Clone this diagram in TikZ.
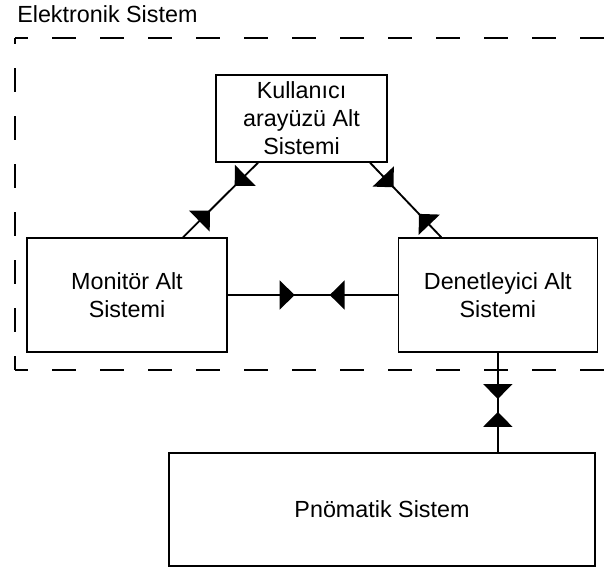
\documentclass[tikz,border=0pt]{standalone}
\usepackage{fontspec}
\setmainfont{Liberation Sans}
\usepackage{tikz}
\usetikzlibrary{arrows.meta,positioning,decorations.markings}
\tikzset{subsys/.style={rectangle, draw=black, line width=1pt, fill=white, align=center, inner sep=0pt, font=\fontsize{17.5}{21}\selectfont}, frame/.style={dash pattern=on 18pt off 18pt, line width=1.4pt}, link/.style 2 args={line width=1.4pt, postaction={decorate}, decoration={markings, mark=at position #1 with {\arrow{Triangle[length=11.25pt,width=21.75pt]}}, mark=at position #2 with {\arrowreversed{Triangle[length=11.25pt,width=21.75pt]}}}}}

\begin{document}
\begin{tikzpicture}[x=0.75pt,y=-0.75pt]
\useasboundingbox (0,0) rectangle (605,567);
\node[anchor=base west, inner sep=0pt, font=\fontsize{17.5}{21}\selectfont] (title) at (17,23) {Elektronik Sistem};
\draw[frame, dash phase=8pt] (15,38) -- (605,38);
\draw[frame, dash phase=8pt] (15,370) -- (605,370);
\draw[frame, dash phase=13.5pt] (15,38) -- (15,370);
\node[subsys, minimum width=128.25pt, minimum height=65.25pt] (kul) at (301.5,118.5) {Kullanıcı\\arayüzü Alt\\Sistemi};
\node[subsys, minimum width=150pt, minimum height=85.5pt] (mon) at (127,295) {Monitör Alt\\Sistemi};
\node[subsys, minimum width=149.25pt, minimum height=85.5pt, right=127.5pt of mon] (den) {Denetleyici Alt\\Sistemi};
\node[subsys, minimum width=319.5pt, minimum height=84.75pt] (pn) at (382,509.5) {Pnömatik Sistem};
\draw[link={0.36}{0.69}] ([xshift=42pt]mon.north) -- ([xshift=-32.6pt]kul.south);
\draw[link={0.33}{0.686}] ([xshift=51.4pt]kul.south) -- ([xshift=-42.4pt]den.north);
\draw[link={0.394}{0.6}] (mon.east) -- (den.west);
\draw[link={0.465}{0.594}] (den.south) -- (den.south |- pn.north);
\end{tikzpicture}
\end{document}
